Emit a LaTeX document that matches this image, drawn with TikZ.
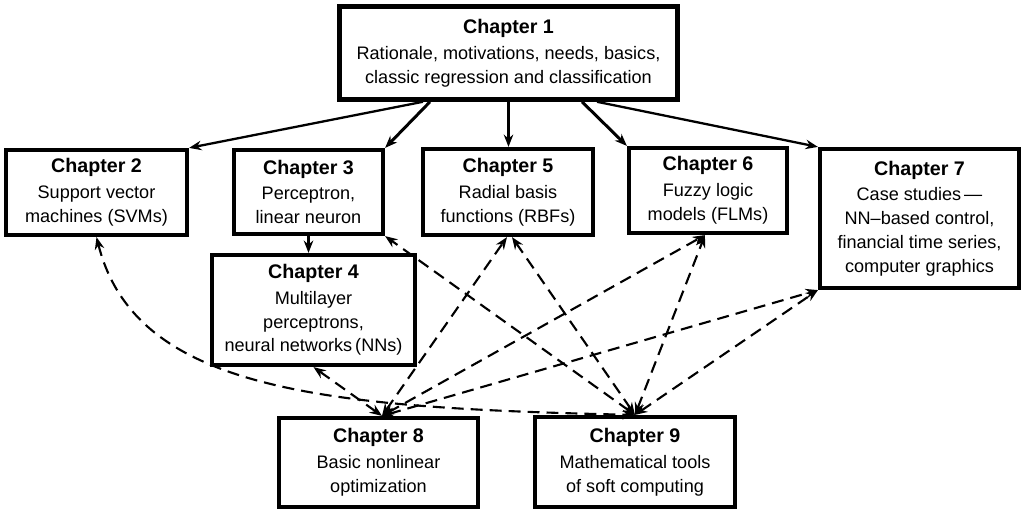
\documentclass[tikz,border=0pt]{standalone}
\usepackage{fontspec}
\setmainfont{Liberation Sans}
\usetikzlibrary{arrows.meta,calc}
\newlength\pxu
\setlength\pxu{0.02cm}
\newcommand\chtitle[1]{{\fontsize{11.2}{13.6}\selectfont\bfseries #1}}
\begin{document}
\begin{tikzpicture}[x=0.02cm,y=-0.02cm,
  chbox/.style={draw, line width=2.1pt, inner sep=0pt, align=center,
    font=\fontsize{10.3}{13.6}\selectfont},
  solidarrow/.style={line width=1.3pt, -{Stealth[length=7pt,width=5.4pt]}},
  dasharrow/.style={line width=1.2pt, dash pattern=on 6.8pt off 4pt,
    {Stealth[length=7pt,width=5.4pt]}-{Stealth[length=7pt,width=5.4pt]}}]
\useasboundingbox[fill=white] (0,0) rectangle (1025,513);

\node[chbox, line width=2.6pt, minimum width=338\pxu, minimum height=93\pxu] (ch1) at (508.5,53)
  {\chtitle{Chapter 1}\\[1pt] Rationale, motivations, needs, basics,\\ classic regression and classification};
\node[chbox, minimum width=181.5\pxu, minimum height=85.5\pxu] (ch2) at (96.5,192.5)
  {\chtitle{Chapter 2}\\[1pt] Support vector\\ machines (SVMs)};
\node[chbox, minimum width=149.5\pxu, minimum height=84.5\pxu] (ch3) at (308.5,192)
  {\chtitle{Chapter 3}\\[1pt] Perceptron,\\ linear neuron};
\node[chbox, line width=2.4pt, minimum width=203\pxu, minimum height=110\pxu] (ch4) at (313.5,310)
  {\chtitle{Chapter 4}\\[1pt] Multilayer\\ perceptrons,\\ neural networks\,(NNs)};
\node[chbox, minimum width=170.5\pxu, minimum height=86.5\pxu] (ch5) at (508,192)
  {\chtitle{Chapter 5}\\[1pt] Radial basis\\ functions (RBFs)};
\node[chbox, minimum width=158.5\pxu, minimum height=85.5\pxu] (ch6) at (708,190.5)
  {\chtitle{Chapter 6}\\[1pt] Fuzzy logic\\ models (FLMs)};
\node[chbox, minimum width=199.5\pxu, minimum height=139.5\pxu] (ch7) at (919.5,218.5)
  {\chtitle{Chapter 7}\\[1pt] Case studies\,---\\ NN--based control,\\ financial time series,\\ computer graphics};
\node[chbox, minimum width=199.5\pxu, minimum height=89.5\pxu] (ch8) at (378.5,462.5)
  {\chtitle{Chapter 8}\\[1pt] Basic nonlinear\\ optimization};
\node[chbox, minimum width=200.5\pxu, minimum height=90.5\pxu] (ch9) at (635,462)
  {\chtitle{Chapter 9}\\[1pt] Mathematical tools\\ of soft computing};

% solid arrows from chapter 1
\draw[solidarrow] ($(ch1.south)+(-85.5,0)$) -- (ch2.north east);
\draw[solidarrow, line width=1.7pt] ($(ch1.south)+(-78.5,0)$) -- (ch3.north east);
\draw[solidarrow] (ch1.south) -- (ch1.south |- ch5.north);
\draw[solidarrow, line width=1.7pt] ($(ch1.south)+(73.5,0)$) -- (ch6.north west);
\draw[solidarrow] ($(ch1.south)+(88.5,0)$) -- (ch7.north west);
\draw[solidarrow] (ch3.south) -- (ch3.south |- ch4.north);

% dashed links from chapter 8
\draw[dasharrow] ($(ch8.north)+(3.5,0)$) -- (ch4.south);
\draw[dasharrow] ($(ch8.north)+(3.5,0)$) -- ($(ch5.south)+(-1,0)$);
\draw[dasharrow] ($(ch8.north)+(3.5,0)$) -- ($(ch6.south)+(-3,0)$);
\draw[dasharrow] ($(ch8.north)+(3.5,0)$) -- (ch7.south west);

% dashed links from chapter 9
\draw[dasharrow] (ch9.north) -- (ch3.south east);
\draw[dasharrow] (ch9.north) -- ($(ch5.south)+(4,0)$);
\draw[dasharrow] (ch9.north) -- ($(ch6.south)+(-3,0)$);
\draw[dasharrow] (ch9.north) -- (ch7.south west);
\draw[dasharrow] (ch2.south) .. controls (135,390) and (320,408) .. (ch9.north);
\end{tikzpicture}
\end{document}
